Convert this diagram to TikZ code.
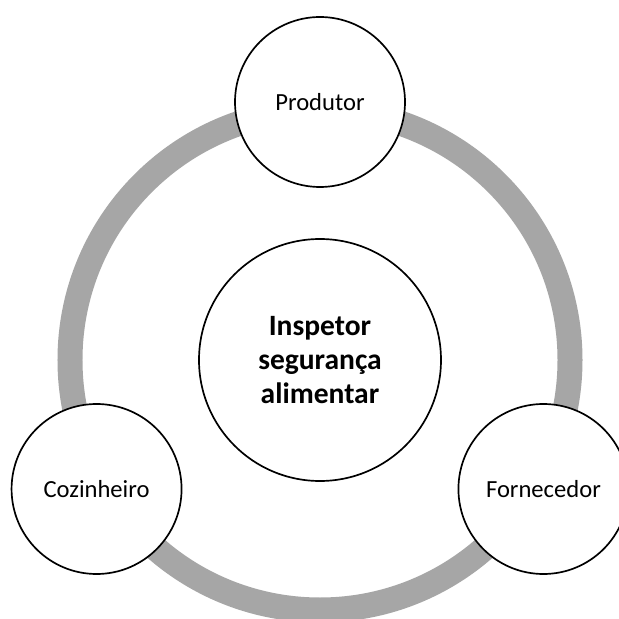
\documentclass[tikz,border=0pt]{standalone}
\usepackage{fontspec}
\setmainfont{Carlito}
\definecolor{ringgray}{HTML}{A6A6A6}
\tikzset{
	actor/.style={circle, draw=black, line width=1.2pt, fill=white, minimum size=4.25cm, inner sep=0pt, font=\fontsize{17.5}{20}\selectfont},
	hub/.style={circle, draw=black, line width=1.2pt, fill=white, minimum size=6.05cm, inner sep=0pt, align=center, font=\bfseries\fontsize{21}{24.5}\selectfont}
}

\begin{document}
\begin{tikzpicture}
		%%%%% START %%%%%
		\clip (-8.0, -6.475) rectangle (7.475, 9.0);
		\fill[white] (-8.0, -6.475) rectangle (7.475, 9.0);
		
		\draw[ringgray, line width=0.625cm] (0, 0) circle (6.25);
		
		\node[hub] (inspetor) at (0, 0) {Inspetor\\segurança\\alimentar};
		
		\node[actor] (produtor) at (90:6.45) {Produtor};
		\node[actor] (cozinheiro) at (210:6.45) {Cozinheiro};
		\node[actor] (fornecedor) at (330:6.45) {Fornecedor};
		%%%%% END %%%%%
	\end{tikzpicture}
\end{document}
